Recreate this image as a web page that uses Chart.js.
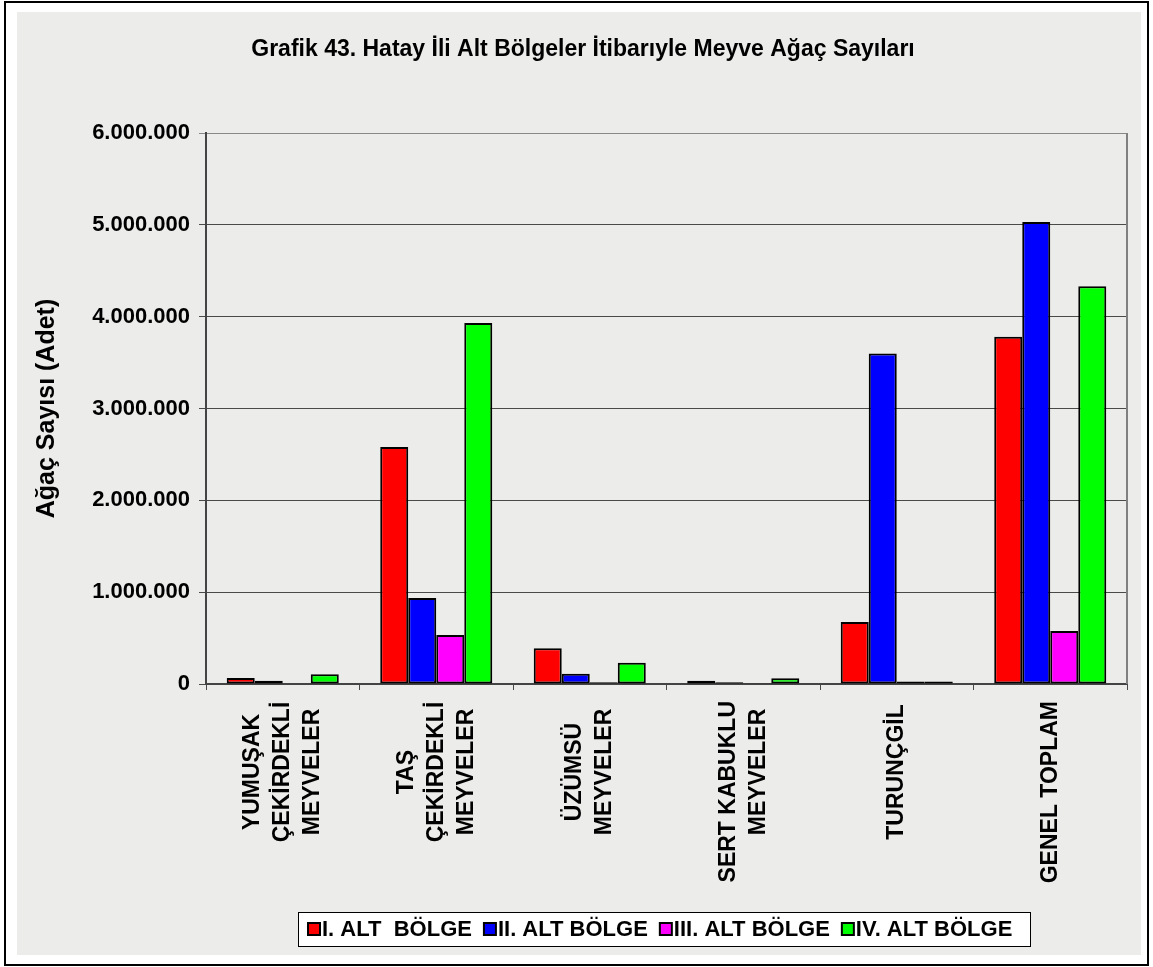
<!DOCTYPE html>
<html>
<head>
<meta charset="utf-8">
<script src="https://cdn.jsdelivr.net/npm/chart.js@4"></script>
<style>
  body { margin: 0; background: #fff; }
  canvas { display: block; }
</style>
</head>
<body>
<canvas id="meyveChart" width="1153" height="967"></canvas>
<script>
// ============================
// DATA
// ============================

const kategori = [
    ['YUMUŞAK', 'ÇEKİRDEKLİ', 'MEYVELER'],
    ['TAŞ', 'ÇEKİRDEKLİ', 'MEYVELER'],
    ['ÜZÜMSÜ', 'MEYVELER'],
    ['SERT KABUKLU', 'MEYVELER'],
    ['TURUNÇGİL'],
    ['GENEL TOPLAM']
];

const bolge1 = [65000, 2580000, 390000, 36000, 675000, 3780000];
const bolge2 = [36000, 937000, 112000, 20000, 3600000, 5030000];
const bolge3 = [5000, 534000, 20000, 2000, 28000, 577000];
const bolge4 = [105000, 3930000, 232000, 62000, 26000, 4330000];

const bolgeAdi = ['I. ALT  BÖLGE', 'II. ALT BÖLGE', 'III. ALT BÖLGE', 'IV. ALT BÖLGE'];
const renk = ['#ff0000', '#0000ff', '#ff00ff', '#00ff00'];

const baslik = 'Grafik 43. Hatay İli Alt Bölgeler İtibarıyle Meyve Ağaç Sayıları';

const FONT = '"Liberation Sans", Arial, sans-serif';

function noktali(v) {
    return String(v).replace(/\B(?=(\d{3})+(?!\d))/g, '.');
}

// ============================
// BACKGROUND, FRAME, TITLE, LEGEND
// ============================

const arkaPlan = {
    id: 'arkaPlan',
    beforeDraw(chart) {
        const c = chart.ctx;
        c.save();
        c.fillStyle = '#ffffff';
        c.fillRect(0, 0, chart.width, chart.height);
        c.fillStyle = '#ececea';
        c.fillRect(17, 12, 1124, 943);
        c.strokeStyle = '#000';
        c.lineWidth = 2;
        c.strokeRect(5, 2, 1143, 963);

        // title
        c.font = 'bold 23px ' + FONT;
        c.fillStyle = '#000';
        c.textAlign = 'center';
        c.textBaseline = 'middle';
        c.fillText(baslik, 583, 50);
        c.restore();
    },
    beforeDatasetsDraw(chart) {
        const a = chart.chartArea;
        const c = chart.ctx;
        c.save();
        c.strokeStyle = '#808080';
        c.lineWidth = 2;
        c.beginPath();
        c.moveTo(a.right, a.top);
        c.lineTo(a.right, a.bottom);
        c.stroke();
        c.restore();
    },
    afterDraw(chart) {
        const c = chart.ctx;
        c.save();
        // legend box
        c.fillStyle = '#fff';
        c.fillRect(298, 912, 732, 34);
        c.lineWidth = 1;
        c.strokeStyle = '#000';
        c.strokeRect(298.5, 912.5, 732, 34);

        c.font = 'bold 22px ' + FONT;
        c.textAlign = 'left';
        c.textBaseline = 'middle';
        let x = 308;
        chart.data.datasets.forEach(ds => {
            c.fillStyle = ds.backgroundColor;
            c.fillRect(x, 923, 12, 12);
            c.lineWidth = 2;
            c.strokeStyle = '#000';
            c.strokeRect(x, 923, 12, 12);
            c.fillStyle = '#000';
            c.fillText(ds.label, x + 14, 930);
            x += 14 + c.measureText(ds.label).width + 12;
        });
        c.restore();
    }
};

// ============================
// X LABELS (rotated, centred lines)
// ============================

const xEtiket = {
    id: 'xEtiket',
    afterDraw(chart) {
        const x = chart.scales.x;
        const c = chart.ctx;
        c.save();
        c.font = 'bold 23px ' + FONT;
        c.fillStyle = '#000';
        c.textAlign = 'center';
        c.textBaseline = 'middle';
        kategori.forEach((satirlar, i) => {
            const cx = x.getPixelForValue(i);
            satirlar.forEach((s, j) => {
                const px = cx + (j - (satirlar.length - 1) / 2) * 30;
                const w = c.measureText(s).width;
                const py = Math.max(772, x.top + 17 + w / 2);
                c.save();
                c.translate(px, py);
                c.rotate(-Math.PI / 2);
                c.fillText(s, 0, 0);
                c.restore();
            });
        });
        c.restore();
    }
};

// ============================
// CHART
// ============================

const ctx = document.getElementById('meyveChart');

new Chart(ctx, {

    type: 'bar',

    data: {

        labels: kategori.map(k => k.join(' ')),

        datasets: [bolge1, bolge2, bolge3, bolge4].map((d, i) => ({
            label: bolgeAdi[i],
            data: d,
            backgroundColor: renk[i],
            borderColor: '#000',
            borderWidth: 2,
            borderSkipped: false,
            barPercentage: 1,
            categoryPercentage: 0.73
        }))

    },

    options: {

        responsive: false,
        animation: false,
        devicePixelRatio: 1,

        layout: {
            padding: { left: 22, right: 26, top: 133, bottom: 55 }
        },

        plugins: {
            title: { display: false },
            legend: { display: false },
            tooltip: { enabled: false }
        },

        scales: {

            x: {
                grid: {
                    offset: true,
                    drawOnChartArea: false,
                    drawTicks: true,
                    tickLength: 6,
                    color: '#4a4a4a'
                },
                border: { color: '#444', width: 2 },
                ticks: { display: false },
                afterFit(s) { s.height = 228; }
            },

            y: {
                min: 0,
                max: 6000000,
                ticks: {
                    stepSize: 1000000,
                    color: '#000',
                    padding: 9,
                    font: { family: FONT, size: 22, weight: 'bold' },
                    callback: v => noktali(v)
                },
                grid: {
                    color: c => c.tick && c.tick.value === 6000000 ? '#888' : '#4a4a4a',
                    tickLength: 7,
                    lineWidth: 1
                },
                border: { color: '#444', width: 2 },
                title: {
                    display: true,
                    text: 'Ağaç Sayısı (Adet)',
                    color: '#000',
                    font: { family: FONT, size: 25, weight: 'bold' },
                    padding: { top: 10, bottom: 0 }
                },
                afterFit(s) { s.width = 184; }
            }

        }

    },

    plugins: [arkaPlan, xEtiket]

});
</script>
</body>
</html>
